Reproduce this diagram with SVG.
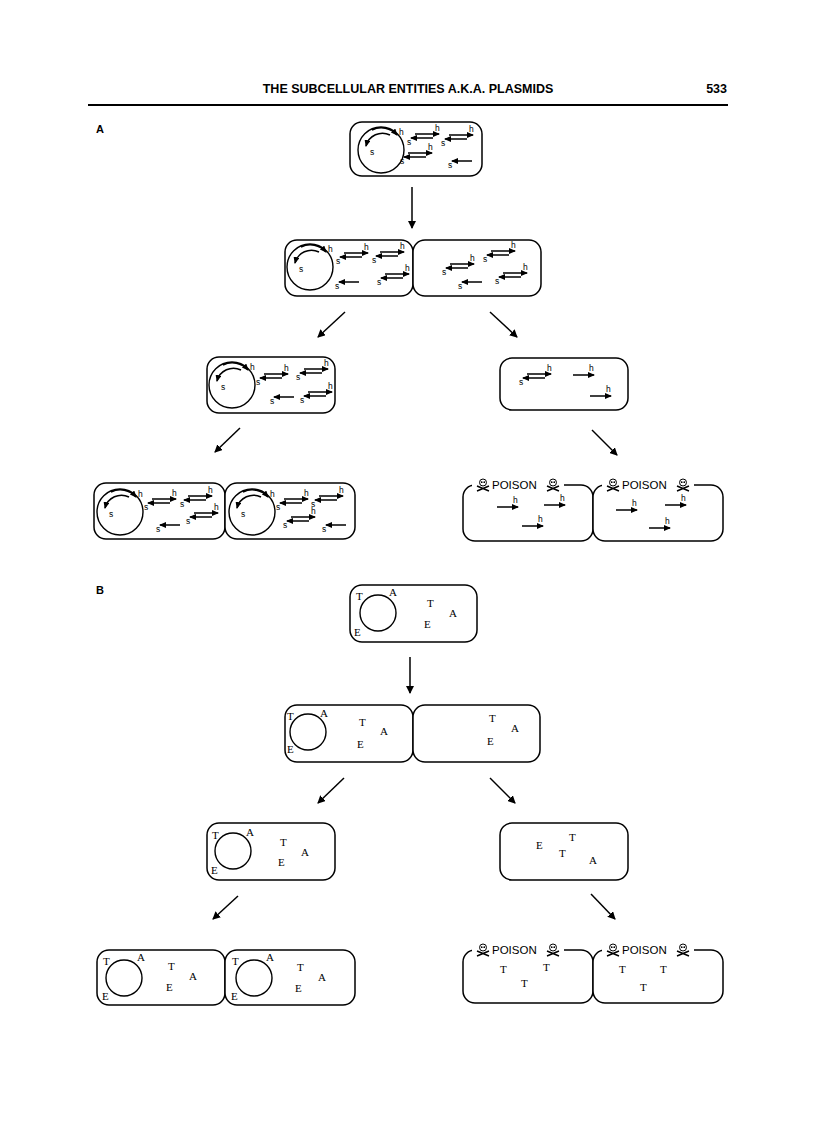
<svg xmlns="http://www.w3.org/2000/svg" xmlns:xlink="http://www.w3.org/1999/xlink" width="816" height="1123" viewBox="0 0 816 1123">
<style>
.cell{fill:#fff;stroke:#000;stroke-width:1.5}
.pl{fill:none;stroke:#000;stroke-width:1.4}
.ar{stroke:#000;stroke-width:1.5;fill:none}
.sa{font-family:"Liberation Sans",Arial,sans-serif;font-size:8.5px}
.tr{font-family:"Liberation Serif","Times New Roman",serif;font-size:11px}
.po{font-family:"Liberation Sans",Arial,sans-serif;font-size:11.5px}
</style>
<defs>
<marker id="ah" markerWidth="8" markerHeight="8" refX="7" refY="4" orient="auto" markerUnits="userSpaceOnUse"><path d="M0,0 L8,4 L0,8 Z"/></marker>
<marker id="sh" markerWidth="7" markerHeight="6" refX="6" refY="3" orient="auto" markerUnits="userSpaceOnUse"><path d="M0,0 L7,3 L0,6 Z"/></marker>
<g id="pair"><line x1="2" y1="0" x2="26" y2="0" class="ar" stroke-width="1.6" marker-end="url(#sh)"/><line x1="20" y1="4" x2="-2" y2="4" class="ar" stroke-width="1.6" marker-end="url(#sh)"/><text x="22" y="-3" class="sa">h</text><text x="-6" y="11" class="sa">s</text></g>
<g id="sarr"><line x1="18" y1="0" x2="-2" y2="0" class="ar" stroke-width="1.6" marker-end="url(#sh)"/><text x="-6" y="7" class="sa">s</text></g>
<g id="harr"><line x1="0" y1="0" x2="21" y2="0" class="ar" stroke-width="1.6" marker-end="url(#sh)"/><text x="16" y="-4" class="sa">h</text></g>
<g id="plas"><circle cx="0" cy="0" r="23" class="pl"/><path d="M-9,-20 A21,21 0 0 1 16,-15" class="ar" stroke-width="1.3" marker-end="url(#sh)"/><path d="M9,-15 A17,17 0 0 0 -15,-4" class="ar" stroke-width="1.3" marker-end="url(#sh)"/><text x="18" y="-15" class="sa">h</text><text x="-11" y="5" class="sa">s</text></g>
<g id="skull"><circle cx="0" cy="-2.5" r="3.5" fill="#fff" stroke="#000" stroke-width="1"/><circle cx="-1.3" cy="-2.8" r="0.9"/><circle cx="1.3" cy="-2.8" r="0.9"/><path d="M-6,1 L6,6 M6,1 L-6,6" stroke="#000" stroke-width="1.4"/></g>
<g id="pois"><rect x="-46" y="-7" width="92" height="14" fill="#fff"/><use xlink:href="#skull" x="-35" y="0"/><text x="-26" y="4" class="po">POISON</text><use xlink:href="#skull" x="35" y="0"/></g>
</defs>
<g id="header">
<text x="408" y="93" text-anchor="middle" font-family="'Liberation Sans',Arial,sans-serif" font-size="12.5" font-weight="bold">THE SUBCELLULAR ENTITIES A.K.A. PLASMIDS</text>
<text x="727" y="93" text-anchor="end" font-family="'Liberation Sans',Arial,sans-serif" font-size="12.5" font-weight="bold">533</text>
<line x1="88" y1="105" x2="728" y2="105" stroke="#000" stroke-width="2"/>
<text x="96" y="133" font-family="'Liberation Sans',Arial,sans-serif" font-size="11" font-weight="bold">A</text>
<text x="96" y="594" font-family="'Liberation Sans',Arial,sans-serif" font-size="11" font-weight="bold">B</text>
</g>
<g id="connectors" class="ar">
<line x1="412" y1="187" x2="412" y2="228" marker-end="url(#ah)"/>
<line x1="345" y1="312" x2="318" y2="337" marker-end="url(#ah)"/>
<line x1="490" y1="312" x2="517" y2="337" marker-end="url(#ah)"/>
<line x1="240" y1="428" x2="215" y2="452" marker-end="url(#ah)"/>
<line x1="592" y1="430" x2="617" y2="455" marker-end="url(#ah)"/>
<line x1="410" y1="657" x2="410" y2="693" marker-end="url(#ah)"/>
<line x1="344" y1="778" x2="318" y2="803" marker-end="url(#ah)"/>
<line x1="490" y1="778" x2="515" y2="803" marker-end="url(#ah)"/>
<line x1="238" y1="896" x2="213" y2="919" marker-end="url(#ah)"/>
<line x1="591" y1="894" x2="615" y2="919" marker-end="url(#ah)"/>
</g>
<g id="a1"><rect x="350" y="122" width="132" height="54" rx="12" class="cell"/><use xlink:href="#plas" x="381" y="150"/><use xlink:href="#pair" x="413" y="134"/><use xlink:href="#pair" x="447" y="135"/><use xlink:href="#pair" x="406" y="153"/><use xlink:href="#sarr" x="454" y="161"/></g>
<g id="a2l"><rect x="285" y="240" width="128" height="56" rx="12" class="cell"/><use xlink:href="#plas" x="310" y="267"/><use xlink:href="#pair" x="342" y="253"/><use xlink:href="#pair" x="378" y="252"/><use xlink:href="#sarr" x="341" y="282"/><use xlink:href="#pair" x="383" y="274"/></g>
<g id="a2r"><rect x="413" y="240" width="128" height="56" rx="12" class="cell"/><use xlink:href="#pair" x="448" y="264"/><use xlink:href="#pair" x="489" y="251"/><use xlink:href="#pair" x="501" y="273"/><use xlink:href="#sarr" x="464" y="282"/></g>
<g id="a3l"><rect x="207" y="357" width="128" height="56" rx="12" class="cell"/><use xlink:href="#plas" x="232" y="385"/><use xlink:href="#pair" x="262" y="374"/><use xlink:href="#pair" x="302" y="369"/><use xlink:href="#sarr" x="276" y="397"/><use xlink:href="#pair" x="306" y="392"/></g>
<g id="a3r"><rect x="500" y="358" width="128" height="52" rx="12" class="cell"/><use xlink:href="#pair" x="525" y="374"/><use xlink:href="#harr" x="573" y="375"/><use xlink:href="#harr" x="590" y="396"/></g>
<g id="a4l"><rect x="94" y="483" width="131" height="56" rx="12" class="cell"/><use xlink:href="#plas" x="120" y="512"/><use xlink:href="#pair" x="150" y="499"/><use xlink:href="#pair" x="186" y="496"/><use xlink:href="#sarr" x="162" y="525"/><use xlink:href="#pair" x="192" y="513"/></g>
<g id="a4r"><rect x="225" y="483" width="130" height="56" rx="12" class="cell"/><use xlink:href="#plas" x="252" y="512"/><use xlink:href="#pair" x="282" y="499"/><use xlink:href="#pair" x="317" y="496"/><use xlink:href="#pair" x="289" y="517"/><use xlink:href="#sarr" x="328" y="525"/></g>
<g id="a4p1"><rect x="463" y="485" width="130" height="56" rx="12" class="cell"/><use xlink:href="#pois" x="518" y="485"/><use xlink:href="#harr" x="497" y="507"/><use xlink:href="#harr" x="544" y="505"/><use xlink:href="#harr" x="522" y="526"/></g>
<g id="a4p2"><rect x="593" y="485" width="130" height="56" rx="12" class="cell"/><use xlink:href="#pois" x="648" y="485"/><use xlink:href="#harr" x="616" y="510"/><use xlink:href="#harr" x="665" y="505"/><use xlink:href="#harr" x="649" y="528"/></g>
<g id="b1" class="tr"><rect x="350" y="585" width="127" height="57" rx="12" class="cell"/><circle cx="378" cy="613" r="18" class="pl"/><text x="356" y="600">T</text><text x="389" y="596">A</text><text x="354" y="636">E</text><text x="427" y="607">T</text><text x="449" y="617">A</text><text x="424" y="628">E</text></g>
<g id="b2l" class="tr"><rect x="285" y="705" width="128" height="57" rx="12" class="cell"/><circle cx="308" cy="732" r="18" class="pl"/><text x="287" y="720">T</text><text x="320" y="717">A</text><text x="287" y="753">E</text><text x="359" y="726">T</text><text x="380" y="735">A</text><text x="357" y="748">E</text></g>
<g id="b2r" class="tr"><rect x="413" y="705" width="127" height="57" rx="12" class="cell"/><text x="489" y="722">T</text><text x="511" y="732">A</text><text x="487" y="745">E</text></g>
<g id="b3l" class="tr"><rect x="207" y="823" width="128" height="57" rx="12" class="cell"/><circle cx="233" cy="851" r="18" class="pl"/><text x="212" y="839">T</text><text x="246" y="836">A</text><text x="211" y="874">E</text><text x="280" y="846">T</text><text x="301" y="856">A</text><text x="278" y="866">E</text></g>
<g id="b3r" class="tr"><rect x="500" y="823" width="128" height="57" rx="12" class="cell"/><text x="536" y="849">E</text><text x="569" y="841">T</text><text x="559" y="857">T</text><text x="589" y="864">A</text></g>
<g id="b4l" class="tr"><rect x="97" y="950" width="128" height="55" rx="12" class="cell"/><circle cx="124" cy="978" r="18" class="pl"/><text x="103" y="965">T</text><text x="137" y="961">A</text><text x="102" y="1000">E</text><text x="168" y="970">T</text><text x="189" y="980">A</text><text x="166" y="991">E</text></g>
<g id="b4r" class="tr"><rect x="225" y="950" width="130" height="55" rx="12" class="cell"/><circle cx="254" cy="978" r="18" class="pl"/><text x="232" y="965">T</text><text x="266" y="961">A</text><text x="231" y="1000">E</text><text x="297" y="971">T</text><text x="318" y="981">A</text><text x="295" y="992">E</text></g>
<g id="b4p1" class="tr"><rect x="463" y="950" width="130" height="53" rx="12" class="cell"/><use xlink:href="#pois" x="518" y="950"/><text x="500" y="973">T</text><text x="543" y="971">T</text><text x="521" y="987">T</text></g>
<g id="b4p2" class="tr"><rect x="593" y="950" width="130" height="53" rx="12" class="cell"/><use xlink:href="#pois" x="648" y="950"/><text x="619" y="973">T</text><text x="660" y="973">T</text><text x="640" y="991">T</text></g>
</svg>
